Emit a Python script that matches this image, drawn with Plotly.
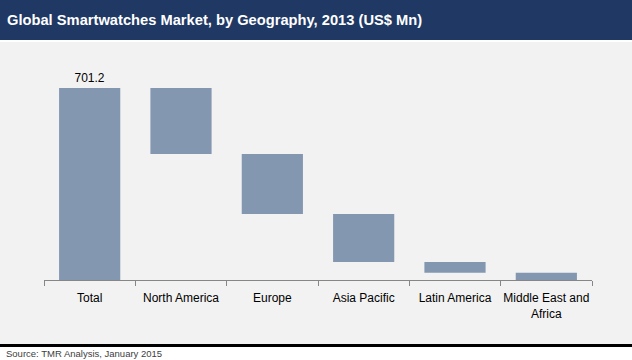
import plotly.graph_objects as go

categories = ["Total", "North America", "Europe", "Asia Pacific", "Latin America", "Middle East and<br>Africa"]
total_value = 701.2
region_values = [241.0, 219.1, 175.3, 39.1, 26.7]

measures = ["absolute"] + ["relative"] * len(region_values)
values = [total_value] + [-v for v in region_values]
labels = [f"{total_value:.1f}"] + [""] * len(region_values)

bar_color = "#8497B0"
W, H = 632, 360
ml, mr, mt, mb = 44, 40, 60, 80
pw, ph = W - ml - mr, H - mt - mb

def px_x(p):
    return (p - ml) / pw

def px_y(p):
    return (H - mb - p) / ph

fig = go.Figure(go.Waterfall(
    x=categories,
    y=values,
    measure=measures,
    text=labels,
    textposition="outside",
    textfont=dict(family="Liberation Sans, Arial", size=12, color="#000000"),
    cliponaxis=False,
    connector=dict(visible=False),
    decreasing=dict(marker=dict(color=bar_color)),
    increasing=dict(marker=dict(color=bar_color)),
    totals=dict(marker=dict(color=bar_color)),
    hoverinfo="skip",
))

shapes = [
    dict(type="rect", xref="paper", yref="paper", x0=px_x(0), x1=px_x(W), y0=px_y(344), y1=px_y(42),
         fillcolor="#F2F2F2", line=dict(width=0), layer="below"),
    dict(type="rect", xref="paper", yref="paper", x0=px_x(0), x1=px_x(W), y0=px_y(40), y1=px_y(0),
         fillcolor="#1F3864", line=dict(width=0), layer="below"),
    dict(type="rect", xref="paper", yref="paper", x0=px_x(0), x1=px_x(W), y0=px_y(347), y1=px_y(344),
         fillcolor="#000000", line=dict(width=0), layer="below"),
]

annotations = [
    dict(text="<b>Global Smartwatches Market, by Geography, 2013 (US$ Mn)</b>", xref="paper", yref="paper",
         x=px_x(5), y=px_y(20), xanchor="left", yanchor="middle", showarrow=False,
         font=dict(family="Liberation Sans, Arial", size=14.7, color="#FFFFFF")),
    dict(text="Source: TMR Analysis, January 2015", xref="paper", yref="paper",
         x=px_x(4), y=px_y(353.5), xanchor="left", yanchor="middle", showarrow=False,
         font=dict(family="Liberation Sans, Arial", size=9.5, color="#404040")),
]

fig.update_layout(
    width=W, height=H,
    margin=dict(l=ml, r=mr, t=mt, b=mb, autoexpand=False),
    paper_bgcolor="#FFFFFF",
    plot_bgcolor="rgba(0,0,0,0)",
    showlegend=False,
    waterfallgap=0.33,
    shapes=shapes,
    annotations=annotations,
    xaxis=dict(
        type="category",
        tickson="boundaries",
        tickangle=0,
        automargin=False,
        ticks="outside", ticklen=5, tickcolor="#868686", tickwidth=1,
        ticklabelstandoff=7,
        showline=True, linecolor="#868686", linewidth=1,
        showgrid=False,
        tickfont=dict(family="Liberation Sans, Arial", size=12, color="#000000"),
        fixedrange=True,
    ),
    yaxis=dict(
        range=[0, ph * total_value / 192.0],
        visible=False, showgrid=False, zeroline=False, fixedrange=True,
        automargin=False,
    ),
)

fig.write_html("out.html", config={"displayModeBar": False},
               post_script="document.body.style.margin='0';document.body.style.padding='0';")
